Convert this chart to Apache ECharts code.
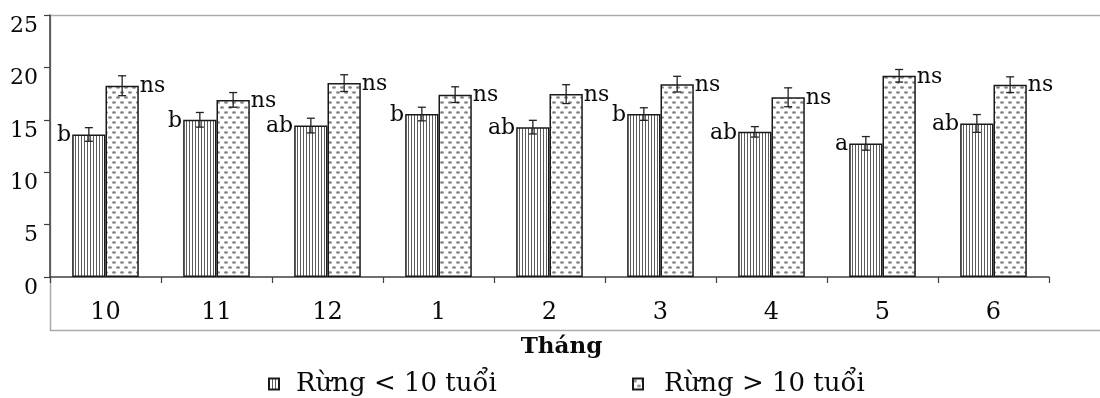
<!DOCTYPE html>
<html><head><meta charset="utf-8">
<script src="https://cdn.jsdelivr.net/npm/echarts@6/dist/echarts.min.js"></script>
<style>html,body{margin:0;padding:0;background:#fff}#c{width:1100px;height:398px}</style>
</head><body><div id="c"></div>
<script>
const categories = ['10', '11', '12', '1', '2', '3', '4', '5', '6'];
const seriesNames = ['Rừng < 10 tuổi', 'Rừng > 10 tuổi'];
const youngValues = [13.6, 15.0, 14.45, 15.55, 14.3, 15.55, 13.85, 12.75, 14.65];
const youngErrors = [0.65, 0.7, 0.7, 0.65, 0.65, 0.6, 0.5, 0.65, 0.85];
const youngLetters = ['b', 'b', 'ab', 'b', 'ab', 'b', 'ab', 'a', 'ab'];
const oldValues = [18.25, 16.9, 18.5, 17.4, 17.45, 18.4, 17.15, 19.2, 18.35];
const oldErrors = [0.95, 0.7, 0.8, 0.75, 0.9, 0.75, 0.9, 0.6, 0.75];
const oldLetters = ['ns', 'ns', 'ns', 'ns', 'ns', 'ns', 'ns', 'ns', 'ns'];
const yMin = 0, yMax = 25, yStep = 5;
const axisTitle = 'Tháng';

const FONT = '"DejaVu Serif", "Liberation Serif", serif';
const TXT = '#0a0a0a';

function stripePattern() {
  const c = document.createElement('canvas');
  c.width = 3; c.height = 4;
  const g = c.getContext('2d');
  g.fillStyle = '#fff'; g.fillRect(0, 0, 3, 4);
  g.fillStyle = '#5e5e5e'; g.fillRect(0, 0, 1, 4);
  return c;
}
function dotPattern() {
  const c = document.createElement('canvas');
  c.width = 8; c.height = 10;
  const g = c.getContext('2d');
  g.fillStyle = '#fff'; g.fillRect(0, 0, 8, 10);
  g.fillStyle = '#858585';
  g.beginPath(); g.ellipse(2, 2.5, 2, 1.2, 0, 0, Math.PI * 2); g.fill();
  g.beginPath(); g.ellipse(6, 7.5, 2, 1.2, 0, 0, Math.PI * 2); g.fill();
  return c;
}

const BAR_GAP_FRAC = 0.4;
function overlay(values, errors, letters, side) {
  return {
    type: 'custom', silent: true, z: 5,
    data: values.map((v, i) => [i, v, errors[i]]),
    renderItem: function (params, api) {
      const idx = api.value(0), v = api.value(1), e = api.value(2);
      const band = api.size([1, 0])[0];
      const bw = band * (1 - BAR_GAP_FRAC) / 2;
      const p = api.coord([idx, v]);
      const cx = p[0] + side * bw / 2;
      const hi = api.coord([idx, v + e])[1];
      const lo = api.coord([idx, v - e])[1];
      const cap = 4;
      const ls = { stroke: '#222', lineWidth: 1.3 };
      return {
        type: 'group',
        children: [
          { type: 'line', shape: { x1: cx, y1: hi, x2: cx, y2: lo }, style: ls },
          { type: 'line', shape: { x1: cx - cap, y1: hi, x2: cx + cap, y2: hi }, style: ls },
          { type: 'line', shape: { x1: cx - cap, y1: lo, x2: cx + cap, y2: lo }, style: ls },
          {
            type: 'text',
            style: {
              text: letters[idx],
              x: side < 0 ? cx - bw / 2 - 1 : cx + bw / 2 + 1,
              y: p[1] + 1,
              align: side < 0 ? 'right' : 'left',
              verticalAlign: 'middle',
              fontFamily: FONT, fontSize: 22, fill: TXT
            }
          }
        ]
      };
    }
  };
}

const chart = echarts.init(document.getElementById('c'), null, { renderer: 'canvas' });
const legendBase = {
  icon: 'rect', itemWidth: 10, itemHeight: 11, top: 366,
  selectedMode: false
};
const legendText = (pad) => ({ fontFamily: FONT, fontSize: 26, color: TXT, padding: [0, 0, 0, pad] });
chart.setOption({
  animation: false,
  backgroundColor: '#fff',
  grid: { left: 50, right: 51, top: 15, bottom: 121, containLabel: false },
  legend: [
    Object.assign({}, legendBase, { data: [seriesNames[0]], left: 263, textStyle: legendText(12) }),
    Object.assign({}, legendBase, { data: [seriesNames[1]], left: 627, textStyle: legendText(16) })
  ],
  graphic: [{
    type: 'polyline', z: -1, silent: true,
    shape: { points: [[1100, 15.5], [50.5, 15.5], [50.5, 330.5], [1100, 330.5]] },
    style: { stroke: '#ababab', lineWidth: 1.5, fill: null }
  }],
  xAxis: {
    type: 'category', data: categories,
    axisLine: { lineStyle: { color: '#404040', width: 1.5 } },
    axisTick: { show: true, length: 6, lineStyle: { color: '#404040', width: 1.2 } },
    axisLabel: { fontFamily: FONT, fontSize: 24, color: TXT, margin: 24 },
    name: axisTitle, nameLocation: 'middle', nameGap: 59,
    nameTextStyle: { fontFamily: FONT, fontSize: 23, fontWeight: 'bold', color: TXT, padding: [0, 0, 0, 24] }
  },
  yAxis: {
    type: 'value', min: yMin, max: yMax, interval: yStep,
    axisLine: { show: true, lineStyle: { color: '#404040', width: 1.5 } },
    axisTick: { show: true, length: 6, lineStyle: { color: '#404040', width: 1.2 } },
    splitLine: { show: false },
    axisLabel: { fontFamily: FONT, fontSize: 22, color: TXT, margin: 12, verticalAlign: 'top' }
  },
  series: [
    {
      name: seriesNames[0], type: 'bar', data: youngValues,
      barGap: '0%', barCategoryGap: (BAR_GAP_FRAC * 100) + '%',
      itemStyle: { color: { image: stripePattern(), repeat: 'repeat' }, borderColor: '#1a1a1a', borderWidth: 1.5 }
    },
    {
      name: seriesNames[1], type: 'bar', data: oldValues,
      barGap: '0%', barCategoryGap: (BAR_GAP_FRAC * 100) + '%',
      itemStyle: { color: { image: dotPattern(), repeat: 'repeat' }, borderColor: '#1a1a1a', borderWidth: 1.5 }
    },
    overlay(youngValues, youngErrors, youngLetters, -1),
    overlay(oldValues, oldErrors, oldLetters, 1)
  ]
});
</script></body></html>
